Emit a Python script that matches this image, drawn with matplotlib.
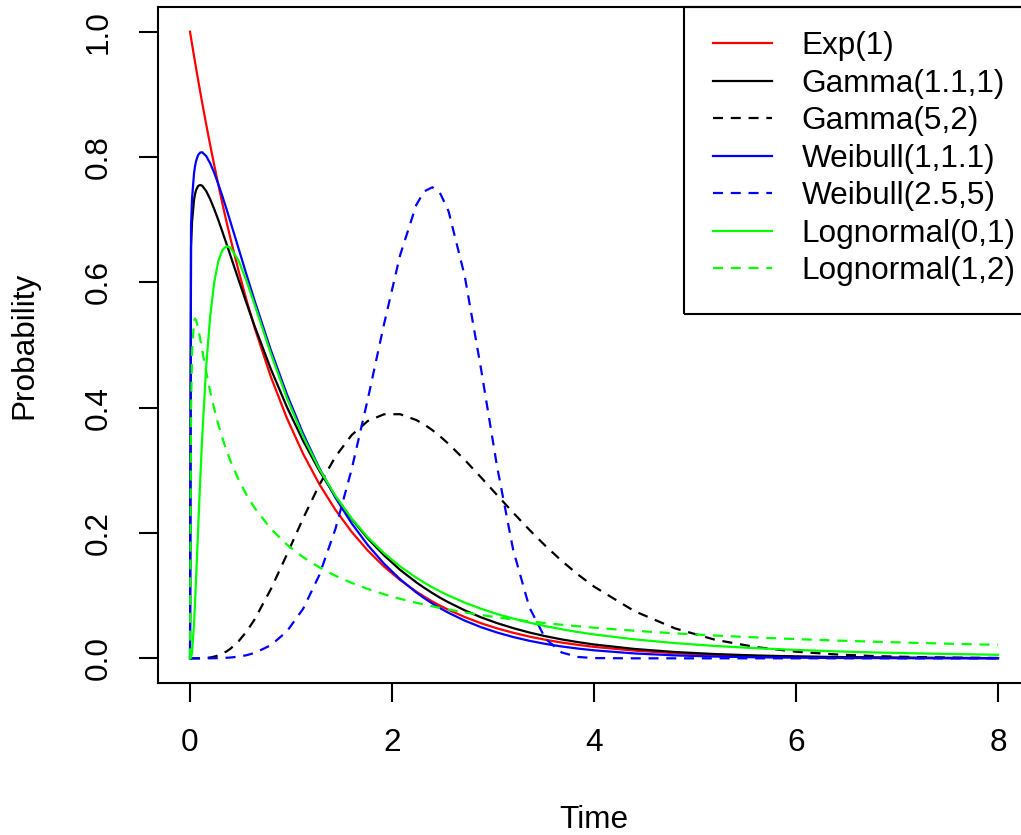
import matplotlib
matplotlib.use("Agg")
import matplotlib.pyplot as plt
from matplotlib.patches import Rectangle

# density values
x = [0, 0.01, 0.02, 0.04, 0.05, 0.06, 0.08, 0.1, 0.12, 0.16, 0.2, 0.24, 0.28, 0.32, 0.36,
     0.4, 0.48, 0.56, 0.64, 0.8, 0.96, 1.12, 1.28, 1.44, 1.6, 1.76, 1.92, 2.08, 2.24,
     2.32, 2.4, 2.48, 2.56, 2.72, 2.88, 3.04, 3.2, 3.36, 3.52, 3.68, 3.84, 4.0,
     4.4, 4.8, 5.2, 5.6, 6.0, 6.4, 6.8, 7.2, 7.6, 8.0]

exp_1 = [1.0, 0.9900, 0.9802, 0.9608, 0.9512, 0.9418, 0.9231, 0.9048, 0.8869, 0.8521, 0.8187,
         0.7866, 0.7558, 0.7261, 0.6977, 0.6703, 0.6188, 0.5712, 0.5273, 0.4493, 0.3829,
         0.3263, 0.2780, 0.2369, 0.2019, 0.1720, 0.1466, 0.1249, 0.1065, 0.0983, 0.0907,
         0.0837, 0.0773, 0.0659, 0.0561, 0.0478, 0.0408, 0.0347, 0.0296, 0.0252, 0.0215,
         0.0183, 0.0123, 0.0082, 0.0055, 0.0037, 0.0025, 0.0017, 0.0011, 0.0007, 0.0005, 0.0003]

gamma_11_1 = [0, 0.6566, 0.6967, 0.7320, 0.7410, 0.7472, 0.7537, 0.7554, 0.7542, 0.7457, 0.7326,
              0.7168, 0.6995, 0.6810, 0.6621, 0.6428, 0.6044, 0.5666, 0.5300, 0.4618, 0.4008,
              0.3469, 0.2995, 0.2582, 0.2224, 0.1913, 0.1645, 0.1412, 0.1213, 0.1124, 0.1041,
              0.0963, 0.0893, 0.0766, 0.0655, 0.0562, 0.0482, 0.0412, 0.0353, 0.0302, 0.0259,
              0.0221, 0.0150, 0.0101, 0.0068, 0.0046, 0.0031, 0.0021, 0.0014, 0.0009, 0.0006, 0.0004]

gamma_5_2 = [0, 0, 0, 0, 0, 0, 0.0000, 0.0001, 0.0002, 0.0006, 0.0014,
             0.0027, 0.0047, 0.0074, 0.0109, 0.0153, 0.0271, 0.0428, 0.0622, 0.1103, 0.1660,
             0.2234, 0.2767, 0.3218, 0.3562, 0.3787, 0.3894, 0.3896, 0.3803, 0.3731, 0.3641,
             0.3537, 0.3422, 0.3167, 0.2890, 0.2606, 0.2324, 0.2051, 0.1793, 0.1555, 0.1339,
             0.1145, 0.0753, 0.0479, 0.0296, 0.0180, 0.0106, 0.0062, 0.0035, 0.0020, 0.0011, 0.0006]

weib_1_11 = [0, 0.6897, 0.7338, 0.7745, 0.7856, 0.7935, 0.8031, 0.8070, 0.8076, 0.8016, 0.7898,
             0.7745, 0.7569, 0.7377, 0.7176, 0.6967, 0.6544, 0.6119, 0.5705, 0.4919, 0.4211,
             0.3585, 0.3036, 0.2562, 0.2155, 0.1808, 0.1512, 0.1263, 0.1052, 0.0959, 0.0874,
             0.0797, 0.0726, 0.0602, 0.0498, 0.0412, 0.0340, 0.0280, 0.0230, 0.0189, 0.0156,
             0.0128, 0.0078, 0.0047, 0.0028, 0.0017, 0.0010, 0.0006, 0.0004, 0.0002, 0.0001, 0.0001]

weib_25_5 = [0, 0, 0, 0, 0, 0, 0, 0, 0, 0, 0.0001,
             0.0002, 0.0003, 0.0005, 0.0009, 0.0013, 0.0027, 0.0050, 0.0086, 0.0209, 0.0431,
             0.0791, 0.1327, 0.2066, 0.3014, 0.4133, 0.5326, 0.6432, 0.7235, 0.7453, 0.7517,
             0.7411, 0.7134, 0.6101, 0.4632, 0.3062, 0.1729, 0.0813, 0.0311, 0.0094, 0.0022,
             0.0004, 0, 0, 0, 0, 0, 0, 0, 0, 0, 0]

lnorm_0_1 = [0, 0.0010, 0.0095, 0.0562, 0.0898, 0.1271, 0.2054, 0.2816, 0.3511, 0.4653, 0.5464,
             0.6004, 0.6336, 0.6514, 0.6576, 0.6555, 0.6349, 0.6022, 0.5643, 0.4864, 0.4152,
             0.3539, 0.3023, 0.2592, 0.2233, 0.1932, 0.1680, 0.1467, 0.1287, 0.1207, 0.1133,
             0.1065, 0.1002, 0.0889, 0.0792, 0.0707, 0.0634, 0.0570, 0.0513, 0.0464, 0.0420,
             0.0381, 0.0303, 0.0243, 0.0197, 0.0162, 0.0134, 0.0111, 0.0093, 0.0079, 0.0067, 0.0057]

lnorm_1_2 = [0, 0.3930, 0.4889, 0.5389, 0.5422, 0.5398, 0.5271, 0.5102, 0.4922, 0.4573, 0.4258,
             0.3980, 0.3735, 0.3518, 0.3324, 0.3151, 0.2854, 0.2607, 0.2400, 0.2068, 0.1815,
             0.1614, 0.1452, 0.1317, 0.1204, 0.1107, 0.1023, 0.0950, 0.0886, 0.0857, 0.0830,
             0.0803, 0.0779, 0.0733, 0.0692, 0.0655, 0.0621, 0.0590, 0.0562, 0.0536, 0.0512,
             0.0489, 0.0440, 0.0399, 0.0364, 0.0334, 0.0307, 0.0284, 0.0264, 0.0246, 0.0230, 0.0216]

labels = ["Exp(1)", "Gamma(1.1,1)", "Gamma(5,2)", "Weibull(1,1.1)",
          "Weibull(2.5,5)", "Lognormal(0,1)", "Lognormal(1,2)"]
series = [exp_1, gamma_11_1, gamma_5_2, weib_1_11, weib_25_5, lnorm_0_1, lnorm_1_2]
colors = ["#FF0000", "black", "black", "#0000FF", "#0000FF", "#00FF00", "#00FF00"]
dashed = [False, False, True, False, True, False, True]

plt.rcParams['font.family'] = ['Liberation Sans', 'DejaVu Sans']
fs = 22.7
W, H = 1021, 835

fig = plt.figure(figsize=(W / 100, H / 100), dpi=100)
# plot box runs past the right edge of the picture, as in the reference
ax = fig.add_axes([157.7 / W, 151.6 / H, 872.6 / W, 676.8 / H])

for ys, lab, c, d in zip(series, labels, colors, dashed):
    if d:
        ax.plot(x, ys, color=c, lw=1.6, label=lab, dashes=(4.5, 3.5))
    else:
        ax.plot(x, ys, color=c, lw=1.6, label=lab)

ax.set_xlim(-0.32, 8.32)
ax.set_ylim(-0.04, 1.04)
ax.set_xticks([0, 2, 4, 6, 8])
ax.set_yticks([0.0, 0.2, 0.4, 0.6, 0.8, 1.0])
ax.set_yticklabels(["0.0", "0.2", "0.4", "0.6", "0.8", "1.0"])
ax.tick_params(length=14, width=1.5, labelsize=fs, color="black")
ax.tick_params(axis='x', pad=18)
ax.tick_params(axis='y', pad=18)
for lab in ax.get_yticklabels():
    lab.set_rotation(90)
    lab.set_va('center')
for sp in ax.spines.values():
    sp.set_linewidth(1.5)

ax.set_xlabel("Time", fontsize=fs, va='center')
ax.xaxis.set_label_coords(0.5, (835 - 820 - 151.6) / 676.8)
ax.set_ylabel("Probability", fontsize=fs, va='center')
ax.yaxis.set_label_coords((24 - 157.7) / 872.6, 0.5)

leg = fig.legend(loc='upper left', bbox_to_anchor=(713 / W, 1 - 31 / H),
                 frameon=False, fontsize=fs, borderpad=0, borderaxespad=0,
                 handlelength=1.86, handletextpad=0.95, labelspacing=0.24)
fig.add_artist(Rectangle((684 / W, 1 - 314 / H), 400 / W, (314 - 6.7) / H,
                         transform=fig.transFigure, fill=False,
                         edgecolor="black", lw=1.5))

fig.savefig("out.png", dpi=100)
